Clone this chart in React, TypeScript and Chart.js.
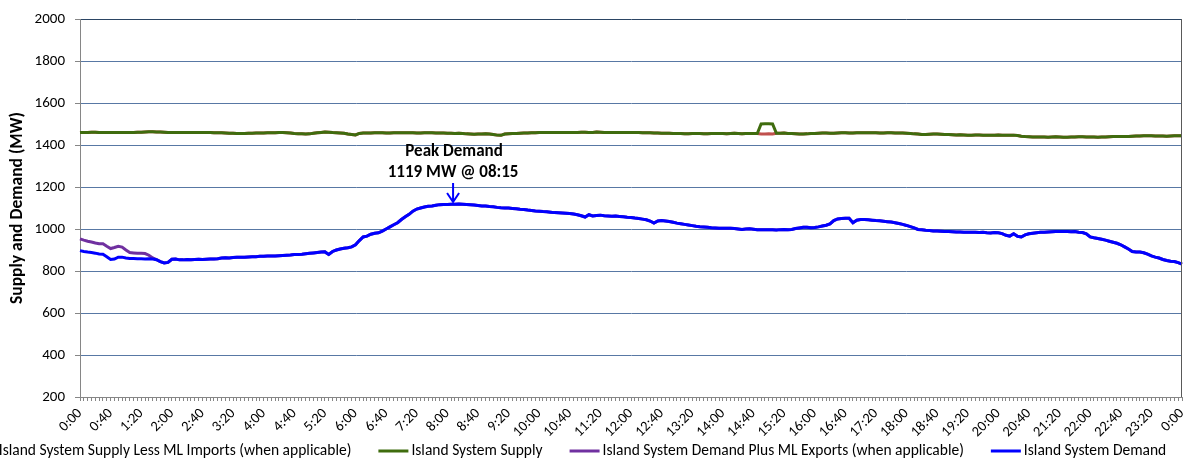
import React, { useEffect, useRef } from 'react';
import { Chart, registerables } from 'chart.js';

Chart.register(...registerables);

// ---------- categories: 5-minute intervals 0:00 .. 24:00 ----------
const timeLabels: string[] = [];
for (let m = 0; m <= 1440; m += 5) {
  const h = Math.floor(m / 60) % 24;
  const mm = m % 60;
  timeLabels.push(`${h}:${mm.toString().padStart(2, '0')}`);
}
const LABEL_EVERY = 8; // a tick label every 40 minutes

// ---------- series values (MW) ----------
// Island System Demand
const islandDemand: number[] = [
  897, 893, 890, 888, 885, 881, 880, 868, 855, 857, 866, 866,
  862, 860, 859, 858, 858, 857, 858, 857, 854, 845, 838, 841,
  856, 857, 853, 853, 855, 854, 855, 856, 855, 856, 857, 857,
  858, 862, 863, 862, 864, 866, 865, 865, 867, 868, 868, 870,
  870, 871, 872, 872, 873, 874, 875, 876, 878, 879, 880, 882,
  884, 886, 888, 890, 891, 879, 893, 900, 905, 908, 911, 915,
  925, 945, 962, 966, 975, 980, 982, 990, 1000, 1010, 1020, 1030,
  1045, 1058, 1070, 1085, 1095, 1100, 1105, 1108, 1110, 1113, 1116, 1117,
  1117, 1118, 1118, 1119, 1118, 1117, 1116, 1114, 1112, 1110, 1110, 1107,
  1106, 1103, 1101, 1100, 1100, 1098, 1096, 1094, 1093, 1090, 1088, 1086,
  1085, 1083, 1082, 1080, 1078, 1077, 1076, 1075, 1074, 1071, 1068, 1063,
  1057, 1068, 1062, 1064, 1066, 1063, 1062, 1061, 1062, 1060, 1058, 1056,
  1055, 1052, 1050, 1047, 1044, 1038, 1028, 1038, 1040, 1038, 1036, 1032,
  1028, 1025, 1022, 1019, 1016, 1013, 1011, 1010, 1008, 1006, 1005, 1004,
  1004, 1003, 1003, 1002, 1000, 998, 1000, 1001, 999, 997, 996, 996,
  997, 996, 995, 997, 998, 997, 998, 1002, 1005, 1008, 1008, 1006,
  1007, 1010, 1014, 1018, 1024, 1040, 1048, 1050, 1051, 1051, 1030, 1042,
  1045, 1045, 1044, 1042, 1040, 1039, 1037, 1035, 1033, 1030, 1026, 1022,
  1017, 1011, 1005, 998, 996, 994, 993, 991, 990, 989, 988, 988,
  987, 986, 986, 985, 985, 984, 984, 983, 984, 982, 981, 983,
  982, 978, 970, 966, 977, 965, 962, 972, 977, 980, 982, 984,
  985, 986, 987, 988, 988, 988, 988, 987, 988, 985, 983, 977,
  962, 958, 955, 951, 947, 942, 937, 932, 925, 915, 905, 893,
  890, 890, 887, 880, 872, 866, 862, 855, 850, 846, 845, 840,
  833,
];

// Island System Supply
const islandSupply: number[] = [
  1459, 1460, 1460, 1461, 1461, 1460, 1460, 1460, 1459, 1460, 1460, 1460,
  1460, 1460, 1460, 1461, 1461, 1462, 1463, 1463, 1462, 1462, 1461, 1460,
  1460, 1460, 1459, 1459, 1459, 1459, 1460, 1460, 1459, 1459, 1459, 1458,
  1458, 1458, 1457, 1456, 1456, 1455, 1455, 1455, 1456, 1456, 1457, 1457,
  1457, 1458, 1458, 1458, 1459, 1459, 1458, 1457, 1455, 1454, 1453, 1452,
  1453, 1456, 1458, 1460, 1462, 1461, 1459, 1458, 1457, 1456, 1452, 1450,
  1448, 1455, 1457, 1457, 1457, 1458, 1458, 1458, 1457, 1457, 1458, 1458,
  1458, 1458, 1458, 1458, 1457, 1457, 1458, 1458, 1458, 1457, 1457, 1457,
  1456, 1456, 1455, 1456, 1455, 1453, 1452, 1451, 1452, 1452, 1453, 1452,
  1450, 1447, 1446, 1452, 1454, 1455, 1455, 1456, 1457, 1457, 1458, 1458,
  1459, 1459, 1459, 1459, 1460, 1460, 1460, 1460, 1460, 1460, 1460, 1461,
  1461, 1460, 1460, 1462, 1461, 1460, 1459, 1459, 1459, 1459, 1460, 1460,
  1460, 1459, 1459, 1458, 1458, 1458, 1457, 1457, 1456, 1456, 1456, 1455,
  1455, 1455, 1454, 1454, 1455, 1455, 1455, 1454, 1454, 1455, 1455, 1455,
  1455, 1454, 1455, 1456, 1455, 1454, 1455, 1455, 1455, 1455, 1500, 1501,
  1501, 1500, 1456, 1456, 1457, 1455, 1455, 1454, 1452, 1452, 1453, 1455,
  1455, 1456, 1457, 1457, 1456, 1456, 1457, 1458, 1458, 1457, 1457, 1458,
  1458, 1458, 1458, 1458, 1458, 1457, 1457, 1458, 1458, 1457, 1457, 1457,
  1456, 1455, 1453, 1452, 1450, 1450, 1451, 1452, 1452, 1451, 1450, 1450,
  1449, 1448, 1449, 1448, 1447, 1447, 1448, 1448, 1447, 1446, 1447, 1447,
  1448, 1447, 1446, 1446, 1447, 1445, 1442, 1440, 1439, 1438, 1438, 1438,
  1438, 1437, 1438, 1439, 1438, 1437, 1437, 1438, 1438, 1439, 1439, 1438,
  1438, 1438, 1437, 1438, 1438, 1439, 1440, 1441, 1440, 1440, 1441, 1442,
  1443, 1443, 1444, 1444, 1444, 1443, 1443, 1443, 1442, 1443, 1444, 1444,
  1444,
];

// Island System Supply Less ML Imports: differs from supply only while importing
const mlImportStart = '14:50';
const supplyLessImportsDuringImport: number[] = [1452, 1452, 1453, 1452];

// Island System Demand Plus ML Exports: differs from demand only while exporting (from 0:00)
const demandPlusExportsEarly: number[] = [
  953, 947, 942, 938, 933, 930, 930, 918, 907, 912, 918, 914,
  900, 888, 886, 884, 884, 883, 875, 862,
];

// peak annotation
const peakLabel = '8:15';
const peakValue = 1119;
const peakText = ['Peak Demand', '1119 MW @ 08:15'];

// y axis
const yMin = 200;
const yMax = 2000;
const yStep = 200;

// ---------- derived series ----------
const importStartIdx = timeLabels.indexOf(mlImportStart);
const supplyLessImports = islandSupply.map((v, i) => {
  const k = i - importStartIdx;
  return k >= 0 && k < supplyLessImportsDuringImport.length ? supplyLessImportsDuringImport[k] : v;
});
const demandPlusExports = islandDemand.map((v, i) =>
  i < demandPlusExportsEarly.length ? demandPlusExportsEarly[i] : v
);

const FONT = 'Carlito, Lato, sans-serif';

const legendItems = [
  { label: 'Island System Supply Less ML Imports (when applicable)', color: '#C0504D' },
  { label: 'Island System Supply', color: '#3F6C0E' },
  { label: 'Island System Demand Plus ML Exports (when applicable)', color: '#7030A0' },
  { label: 'Island System Demand', color: '#0000FF' },
];

export default function App() {
  const canvasRef = useRef<HTMLCanvasElement | null>(null);

  useEffect(() => {
    const canvas = canvasRef.current;
    if (!canvas) return;

    const extrasPlugin = {
      id: 'extras',
      afterDraw(chart: any) {
        const { ctx, chartArea, scales } = chart;
        const x = scales.x;
        const y = scales.y;
        ctx.save();
        // right border of plot area
        ctx.strokeStyle = '#595959';
        ctx.lineWidth = 1;
        ctx.beginPath();
        ctx.moveTo(Math.round(chartArea.right) - 0.5, chartArea.top);
        ctx.lineTo(Math.round(chartArea.right) - 0.5, chartArea.bottom);
        ctx.stroke();

        // peak annotation
        const pIdx = timeLabels.indexOf(peakLabel);
        const px = x.getPixelForValue(pIdx - 1.5);
        const py = y.getPixelForValue(peakValue);
        const tip = py - 2;
        ctx.strokeStyle = '#0000FF';
        ctx.lineWidth = 2;
        ctx.beginPath();
        ctx.moveTo(px, py - 21);
        ctx.lineTo(px, tip);
        ctx.moveTo(px - 6, tip - 9);
        ctx.lineTo(px, tip);
        ctx.lineTo(px + 6, tip - 9);
        ctx.stroke();
        ctx.fillStyle = '#000000';
        ctx.font = `bold 17px ${FONT}`;
        ctx.textAlign = 'center';
        ctx.textBaseline = 'middle';
        ctx.fillText(peakText[0], px + 1, py - 52);
        ctx.fillText(peakText[1], px, py - 31);

        // legend
        ctx.font = `15.5px ${FONT}`;
        const lineLen = 30;
        const gapLT = 3;
        const gapItems = 27;
        const widths = legendItems.map((it) => ctx.measureText(it.label).width);
        const total =
          widths.reduce((a, w) => a + lineLen + gapLT + w, 0) + gapItems * (legendItems.length - 1);
        let lx = chart.width / 2 - 27 - total / 2;
        const ly = chart.height - 11;
        ctx.textAlign = 'left';
        ctx.textBaseline = 'middle';
        legendItems.forEach((it, i) => {
          ctx.strokeStyle = it.color;
          ctx.lineWidth = 3;
          ctx.beginPath();
          ctx.moveTo(lx, ly);
          ctx.lineTo(lx + lineLen, ly);
          ctx.stroke();
          ctx.fillStyle = '#000000';
          ctx.fillText(it.label, lx + lineLen + gapLT, ly);
          lx += lineLen + gapLT + widths[i] + gapItems;
        });
        ctx.restore();
      },
    };

    const chart = new Chart(canvas, {
      type: 'line',
      data: {
        labels: timeLabels,
        datasets: [
          {
            label: legendItems[0].label,
            data: supplyLessImports,
            borderColor: legendItems[0].color,
            borderWidth: 3,
            pointRadius: 0,
            tension: 0,
            order: 4,
          },
          {
            label: legendItems[1].label,
            data: islandSupply,
            borderColor: legendItems[1].color,
            borderWidth: 3,
            pointRadius: 0,
            tension: 0,
            order: 3,
          },
          {
            label: legendItems[2].label,
            data: demandPlusExports,
            borderColor: legendItems[2].color,
            borderWidth: 3,
            pointRadius: 0,
            tension: 0,
            order: 2,
          },
          {
            label: legendItems[3].label,
            data: islandDemand,
            borderColor: legendItems[3].color,
            borderWidth: 3,
            pointRadius: 0,
            tension: 0,
            order: 1,
          },
        ],
      },
      options: {
        responsive: false,
        animation: false,
        devicePixelRatio: 1,
        layout: { padding: { left: 0, top: 14, right: 4, bottom: 22 } },
        plugins: {
          legend: { display: false },
          tooltip: { enabled: false },
        },
        scales: {
          x: {
            type: 'category',
            offset: false,
            grid: {
              drawOnChartArea: false,
              drawTicks: true,
              tickLength: 4,
              color: '#868686',
              tickColor: '#868686',
            },
            border: { color: '#868686', width: 1 },
            ticks: {
              autoSkip: false,
              minRotation: 45,
              maxRotation: 45,
              padding: 4,
              color: '#000000',
              font: { family: FONT, size: 14.5 },
              callback: (_v: any, i: number) => (i % LABEL_EVERY === 0 ? timeLabels[i] : ''),
            },
            afterFit: (s: any) => {
              s.height = 43;
              s.paddingLeft = 0;
              s.paddingRight = 0;
            },
          },
          y: {
            min: yMin,
            max: yMax,
            grid: {
              color: (c: any) => (c.tick && c.tick.value === yMax ? '#2B4564' : '#5878A4'),
              tickColor: '#868686',
              tickLength: 5,
              lineWidth: 1,
            },
            border: { color: '#868686', width: 1 },
            ticks: {
              stepSize: yStep,
              padding: 10,
              color: '#000000',
              font: { family: FONT, size: 15 },
              callback: (v: any) => String(v),
            },
            title: {
              display: true,
              text: 'Supply and Demand (MW)',
              color: '#000000',
              font: { family: FONT, size: 17.5, weight: 'bold' },
              padding: { top: 7, bottom: 0 },
            },
            afterFit: (s: any) => {
              s.width = 80;
            },
          },
        },
      },
      plugins: [extrasPlugin],
    });

    return () => chart.destroy();
  }, []);

  return (
    <div style={{ position: 'fixed', left: 0, top: 0, width: 1186, height: 462, background: '#ffffff' }}>
      <canvas ref={canvasRef} width={1186} height={462} style={{ display: 'block' }} />
    </div>
  );
}
